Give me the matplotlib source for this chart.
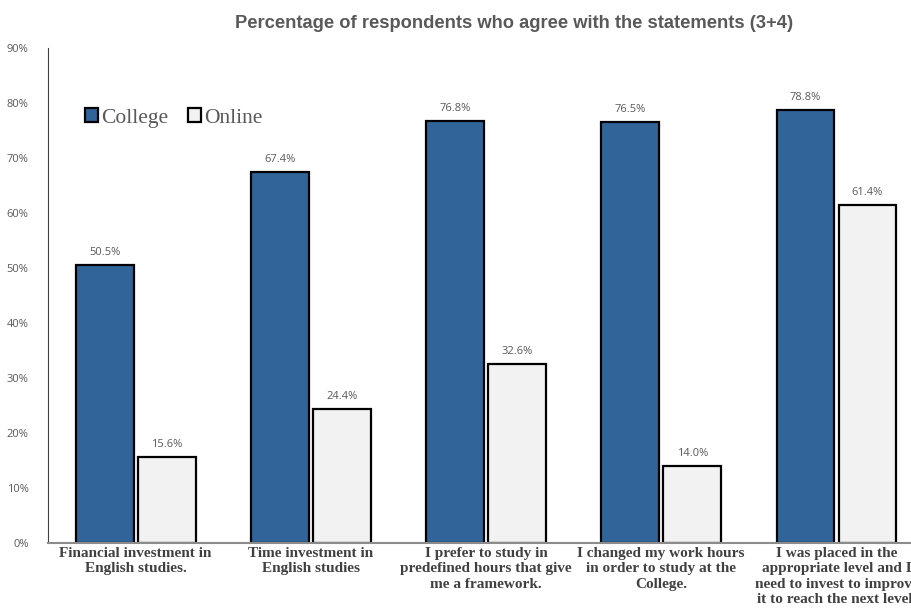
import numpy as np
import matplotlib
matplotlib.use("Agg")
import matplotlib.pyplot as plt

statements = [
    "Financial investment in\nEnglish studies.",
    "Time investment in\nEnglish studies",
    "I prefer to study in\npredefined hours that give\nme a framework.",
    "I changed my work hours\nin order to study at the\nCollege.",
    "I was placed in the\nappropriate level and I\nneed to invest to improve\nit to reach the next level.",
]
college = [50.5, 67.4, 76.8, 76.5, 78.8]
online = [15.6, 24.4, 32.6, 14.0, 61.4]

grey = "#595959"
fig = plt.figure(figsize=(9.11, 6.09), dpi=100)
ax = fig.add_axes([0.0527, 0.1084, 0.9616, 0.8128])

x = np.arange(len(statements))
w = 0.33
gap = 0.012
b1 = ax.bar(x - w / 2 - gap, college, w, color="#31659A", edgecolor="black",
            linewidth=1.6, label="College")
b2 = ax.bar(x + w / 2 + gap, online, w, color="#F2F2F2", edgecolor="black",
            linewidth=1.6, label="Online")

for bars, vals in ((b1, college), (b2, online)):
    for rect, v in zip(bars, vals):
        ax.annotate("%.1f%%" % v, (rect.get_x() + rect.get_width() / 2, v),
                    xytext=(0, 5), textcoords="offset points", ha="center",
                    va="bottom", fontsize=8, color=grey, family="Open Sans")

ax.set_xlim(-0.5, 4.5)
ax.set_ylim(0, 90)
ax.set_yticks(range(0, 91, 10))
ax.set_yticklabels(["%d%%" % t for t in range(0, 91, 10)], fontsize=8,
                   color=grey, family="Open Sans")
ax.set_xticks(x)
ax.set_xticklabels(statements, family="Liberation Serif", fontweight="bold",
                   fontsize=11, color="#404040", linespacing=1.22)
ax.tick_params(axis="both", length=0)
ax.tick_params(axis="y", pad=14)
ax.tick_params(axis="x", pad=3)

for s in ("top", "right"):
    ax.spines[s].set_visible(False)
ax.spines["left"].set_color("#404040")
ax.spines["left"].set_linewidth(0.8)
ax.spines["bottom"].set_color("#8c8c8c")
ax.spines["bottom"].set_linewidth(1.5)

leg = ax.legend(loc="upper left", bbox_to_anchor=(0.03, 0.9), ncol=2,
                frameon=False, prop={"family": "Liberation Serif", "size": 15.5},
                handlelength=0.6, handleheight=0.6, handletextpad=0.15,
                columnspacing=0.9, borderpad=0)
for t in leg.get_texts():
    t.set_color(grey)

fig.text(0.564, 0.962, "Percentage of respondents who agree with the statements (3+4)",
         ha="center", va="center", fontsize=13.2, fontweight="bold",
         color=grey, family="Liberation Sans")

fig.savefig("out.png", dpi=100)
